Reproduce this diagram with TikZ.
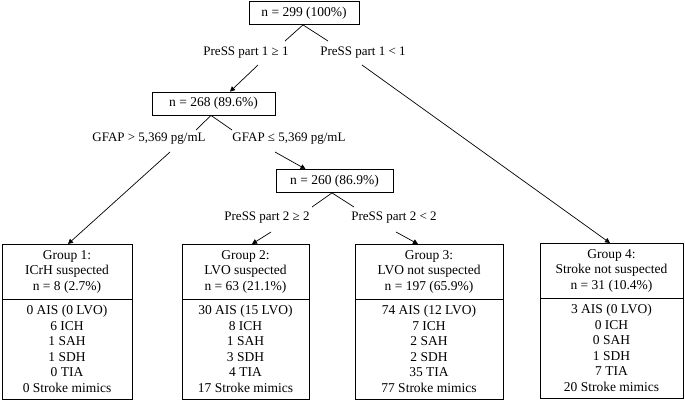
\documentclass[tikz,border=0pt]{standalone}
\usepackage{fontspec}
\setmainfont{Liberation Serif}
\newfontfamily\timesfont{Liberation Serif}
\usetikzlibrary{positioning, arrows.meta}
\tikzset{
    >={Triangle[length=5pt, width=5pt]}, % small filled arrow heads
    every node/.style={font=\timesfont\fontsize{13.5}{15.5}\selectfont}, % Times-like text everywhere
    count/.style={draw, line width=0.8pt, minimum height=23pt, inner sep=0pt}, % the n = ... boxes
    split/.style={inner sep=1pt, font=\timesfont\fontsize{13}{15}\selectfont}, % the conditions written on the branches
    grouphead/.style={draw, line width=0.8pt, align=center, inner sep=0pt, outer sep=0pt, minimum height=55pt},
    grouplist/.style={draw, line width=0.8pt, align=center, inner sep=0pt, outer sep=0pt, minimum height=100pt},
    branch/.style={line width=0.7pt},
}

\begin{document}
\begin{tikzpicture}[x=1pt, y=-1pt]
    \useasboundingbox (0,0) rectangle (685,402);
    \node[count, minimum width=110pt] (n0) at (304,13) {n = 299 (100\%)};
    \node[split] (c1l) at (246,53) {PreSS part 1 ≥ 1};
    \node[split] (c1r) at (363,53) {PreSS part 1 < 1};
    \node[count, minimum width=123pt] (n1) at (213.5,103.5) {n = 268 (89.6\%)};
    \node[split] (g1l) at (149,139) {GFAP > 5,369 pg/mL};
    \node[split] (g1r) at (289,139) {GFAP ≤ 5,369 pg/mL};
    \node[count, minimum width=117pt] (n2) at (334.5,181) {n = 260 (86.9\%)};
    \node[split] (c2l) at (267,218) {PreSS part 2 ≥ 2};
    \node[split] (c2r) at (394,218) {PreSS part 2 < 2};

    \node[grouphead, minimum width=130pt, anchor=north] (g1h) at (67,244) {Group 1:\\ICrH suspected\\n = 8 (2.7\%)};
    \node[grouplist, minimum width=130pt, below=0pt of g1h] (g1b) {0 AIS (0 LVO)\\6 ICH\\1 SAH\\1 SDH\\0 TIA\\0 Stroke mimics};
    \node[grouphead, minimum width=127pt, anchor=north] (g2h) at (245.5,244) {Group 2:\\LVO suspected\\n = 63 (21.1\%)};
    \node[grouplist, minimum width=127pt, below=0pt of g2h] (g2b) {30 AIS (15 LVO)\\8 ICH\\1 SAH\\3 SDH\\4 TIA\\17 Stroke mimics};
    \node[grouphead, minimum width=148pt, anchor=north] (g3h) at (429,244) {Group 3:\\LVO not suspected\\n = 197 (65.9\%)};
    \node[grouplist, minimum width=148pt, below=0pt of g3h] (g3b) {74 AIS (12 LVO)\\7 ICH\\2 SAH\\2 SDH\\35 TIA\\77 Stroke mimics};
    \node[grouphead, minimum width=143pt, anchor=north] (g4h) at (611.5,243) {Group 4:\\Stroke not suspected\\n = 31 (10.4\%)};
    \node[grouplist, minimum width=143pt, below=0pt of g4h] (g4b) {3 AIS (0 LVO)\\0 ICH\\0 SAH\\1 SDH\\7 TIA\\20 Stroke mimics};

    % ends of the branches next to the conditions
    \coordinate (c1lt) at (285,41);  \coordinate (c1rt) at (328,41);
    \coordinate (c1lb) at (258,65);  \coordinate (c1rb) at (362,65);
    \coordinate (g1lt) at (196,130); \coordinate (g1rt) at (232,130);
    \coordinate (g1lb) at (170,152); \coordinate (g1rb) at (275,152);
    \coordinate (c2lt) at (312,207); \coordinate (c2rt) at (354,207);
    \coordinate (c2lb) at (271,232); \coordinate (c2rb) at (396,232);

    \draw[branch] (c1lt) -- ([xshift=-1pt]n0.south) -- (c1rt);
    \draw[branch, ->] (c1lb) -- ([xshift=16.5pt]n1.north);
    \draw[branch, ->] (c1rb) -- ([xshift=-1.5pt]g4h.north);
    \draw[branch] (g1lt) -- ([xshift=-2.5pt]n1.south) -- (g1rt);
    \draw[branch, ->] (g1lb) -- ([xshift=1pt]g1h.north);
    \draw[branch, ->] (g1rb) -- ([xshift=-29pt]n2.north);
    \draw[branch] (c2lt) -- ([xshift=-2.5pt]n2.south) -- (c2rt);
    \draw[branch, ->] (c2lb) -- ([xshift=6.5pt]g2h.north);
    \draw[branch, ->] (c2rb) -- ([xshift=-11pt]g3h.north);
\end{tikzpicture}
\end{document}
